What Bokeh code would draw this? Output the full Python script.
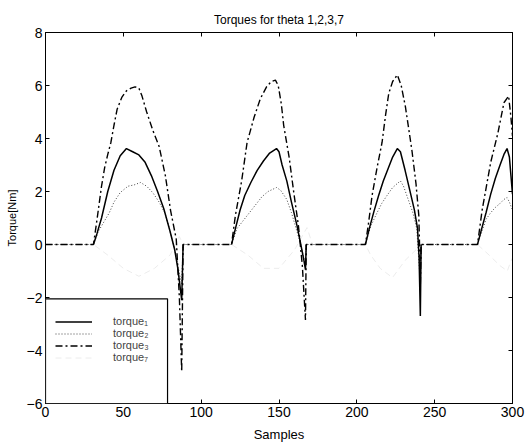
from bokeh.plotting import figure
from bokeh.models import Range1d, FixedTicker, LinearAxis, Legend, LegendItem, BoxAnnotation
from bokeh.embed import file_html
from bokeh.resources import INLINE

nan = float("nan")

title_text = "Torques for theta 1,2,3,7"
x_label = "Samples"
y_label = "Torque[Nm]"
x_ticks = [0, 50, 100, 150, 200, 250, 300]
y_ticks = [-6, -4, -2, 0, 2, 4, 6, 8]
labels = ["torque\u2081", "torque\u2082", "torque\u2083", "torque\u2087"]

# torque 1 (solid) - drawn only during the active phases
t1_x = [30.8, 33, 36, 40, 44, 48, 52, 56, 60, 64, 68, 72, 76, 80, 83, 85, 87.5, 88.4, nan,
        119.5, 122, 125, 128, 132, 136, 140, 144, 148.4, 150, 152, 155, 158, 161.6, 164, 166, 167, 167.5, nan,
        205.5, 208, 211, 214, 217, 220, 223, 226, 228, 231, 234, 237, 239, 240, 240.8, 241.3, nan,
        277.5, 280, 283, 286, 289, 292, 294.5, 296.5, 298, 299, 300]
t1_y = [0, 0.4, 1.0, 2.0, 2.8, 3.35, 3.62, 3.5, 3.38, 3.1, 2.6, 2.0, 1.35, 0.5, -0.2, -0.9, -2.1, 0, nan,
        0, 0.6, 1.3, 1.85, 2.35, 2.8, 3.15, 3.45, 3.62, 3.5, 3.0, 2.4, 1.6, 0.7, 0.0, -0.6, -0.95, 0, nan,
        0, 0.6, 1.25, 1.85, 2.4, 2.85, 3.3, 3.62, 3.5, 2.8, 2.05, 1.3, 0.6, -0.5, -2.7, 0, nan,
        0, 0.55, 1.2, 1.9, 2.5, 3.0, 3.4, 3.62, 3.3, 2.6, 1.9]

# torque 2 (dotted)
t2_x = [0, 30.8, 34, 38, 41, 44, 48, 53, 57, 61, 65, 69, 73, 77, 80, 83, 85, 87.5, 88.4,
        119.5, 123, 127, 131, 135, 139, 143, 148.4, 151, 155, 158, 161, 164, 166, 167, 167.5,
        205.5, 209, 213, 216, 219.4, 223, 228, 230, 233, 236, 238.5, 240.5, 241.3,
        277.5, 281, 283, 286, 289, 292, 294.5, 296.5, 298, 300]
t2_y = [0, 0, 0.5, 0.9, 1.2, 1.6, 1.96, 2.2, 2.25, 2.34, 2.2, 1.95, 1.6, 1.15, 0.5, -0.2, -0.8, -1.5, 0,
        0, 0.6, 0.9, 1.2, 1.5, 1.8, 2.0, 2.15, 2.05, 1.7, 1.2, 0.6, 0.0, -0.5, -0.8, 0,
        0, 0.7, 1.2, 1.55, 1.85, 2.15, 2.4, 2.2, 1.7, 1.2, 0.6, -1.2, 0,
        0, 0.6, 0.95, 1.2, 1.4, 1.55, 1.7, 1.77, 1.6, 1.3]

# torque 3 (dash-dot)
t3_x = [0, 30.8, 33, 36, 38, 40, 42, 44, 46, 49, 52, 55, 57.5, 60, 62, 65, 69, 73, 77, 80.3, 84, 86, 87.5, 88.4,
        119.5, 122, 126, 129.5, 134, 138, 142, 145, 147.7, 149.5, 151.5, 153, 156.5, 159.5, 162.5, 165, 167, 167.5,
        205.5, 207.5, 209.8, 213, 216.2, 218.5, 220.5, 223, 226, 228.5, 231.2, 233.5, 235.5, 238, 239.8, 240.5, 240.8, 241.3,
        277.5, 280.5, 286, 290.6, 294.5, 297.5, 299, 300]
t3_y = [0, 0, 0.9, 2.2, 2.9, 3.4, 3.85, 4.5, 5.1, 5.55, 5.8, 5.9, 5.95, 5.9, 5.6, 5.0, 4.3, 3.7, 2.6, 1.3, 0.2, -2.0, -4.8, 0,
        0, 1.1, 2.4, 3.85, 4.8, 5.5, 5.95, 6.15, 6.2, 6.0, 5.3, 4.5, 3.3, 1.96, 0.7, -0.8, -2.85, 0,
        0, 0.8, 1.85, 2.9, 3.85, 4.9, 5.7, 6.15, 6.4, 6.0, 5.2, 4.3, 3.5, 2.3, 1.1, -0.5, -1.5, 0,
        0, 1.3, 3.1, 4.2, 5.35, 5.6, 4.8, 4.1]

# torque 7 (very faint in the scan)
t7_x = [0, 30.8, 40, 50, 60, 70, 80, 86, 88.4,
        119.5, 130, 140, 150, 160, 168, 171.5,
        205.5, 208.7, 215, 222.9, 231, 238, 241.3,
        277.5, 285, 292, 296.7, 298.6, 300]
t7_y = [0, 0, -0.4, -0.9, -1.2, -0.9, -0.4, 0.3, 0,
        0, -0.4, -0.9, -0.9, -0.2, 0.64, 0,
        0, -0.38, -0.9, -1.25, -0.6, -0.2, 0,
        0, -0.4, -0.8, -1.0, -0.68, -0.5]

FONT = "Liberation Sans"

p = figure(frame_width=467, frame_height=371, x_range=Range1d(0, 300), y_range=Range1d(-6, 8),
           output_backend="svg", toolbar_location=None, title=title_text,
           min_border_left=45, min_border_right=16, min_border_top=32, min_border_bottom=41)
p.background_fill_color = "white"
p.border_fill_color = "white"
p.outline_line_color = "black"
p.outline_line_width = 1
p.grid.visible = False

p.title.align = "center"
p.title.text_font = FONT
p.title.text_font_size = "12px"
p.title.text_font_style = "normal"
p.title.text_color = "black"
p.title.standoff = 12

for ax in (p.xaxis[0], p.yaxis[0]):
    ax.major_tick_in = 4
    ax.major_tick_out = 0
    ax.minor_tick_line_color = None
    ax.major_label_text_font = FONT
    ax.major_label_text_font_size = "14px"
    ax.major_label_text_color = "black"
    ax.axis_label_text_font = FONT
    ax.axis_label_text_font_style = "normal"
    ax.axis_label_text_color = "black"
    ax.axis_line_color = "black"
    ax.major_tick_line_color = "black"

p.xaxis[0].ticker = FixedTicker(ticks=x_ticks)
p.yaxis[0].ticker = FixedTicker(ticks=y_ticks)
p.xaxis[0].axis_label = x_label
p.yaxis[0].axis_label = y_label
p.xaxis[0].axis_label_text_font_size = "13px"
p.yaxis[0].axis_label_text_font_size = "11px"
p.xaxis[0].major_label_standoff = 3
p.xaxis[0].axis_label_standoff = 7
p.yaxis[0].major_label_standoff = 3
p.yaxis[0].axis_label_standoff = 6

for loc, ticks in (("above", x_ticks), ("right", y_ticks)):
    ax = LinearAxis(ticker=FixedTicker(ticks=ticks), major_tick_in=4, major_tick_out=0,
                    minor_tick_line_color=None, major_label_text_color=None,
                    major_label_standoff=0, axis_line_color="black")
    p.add_layout(ax, loc)

r7 = p.line(t7_x, t7_y, line_color="#ececec", line_width=1, line_dash="6 4")
r2 = p.line(t2_x, t2_y, line_color="#444444", line_width=1, line_dash="1 2")
r3 = p.line(t3_x, t3_y, line_color="black", line_width=1.4, line_dash="7 3 2 3")
r1 = p.line(t1_x, t1_y, line_color="black", line_width=1.5)

box = BoxAnnotation(left=0, right=78.4, top=-2.05, bottom=-6, fill_color="white", fill_alpha=1,
                    line_color="black", line_width=1.2, line_alpha=1)
p.add_layout(box)

legend = Legend(items=[LegendItem(label=labels[0], renderers=[r1]),
                       LegendItem(label=labels[1], renderers=[r2]),
                       LegendItem(label=labels[2], renderers=[r3]),
                       LegendItem(label=labels[3], renderers=[r7])],
                location=(10, 40), orientation="vertical",
                border_line_color=None, background_fill_alpha=0,
                label_text_font=FONT, label_text_font_size="11px",
                label_text_line_height=0.9,
                label_height=11, glyph_height=11, glyph_width=37,
                label_standoff=21, spacing=0, padding=0, margin=0)
p.add_layout(legend)

open("out.html", "w").write(file_html(p, INLINE))
